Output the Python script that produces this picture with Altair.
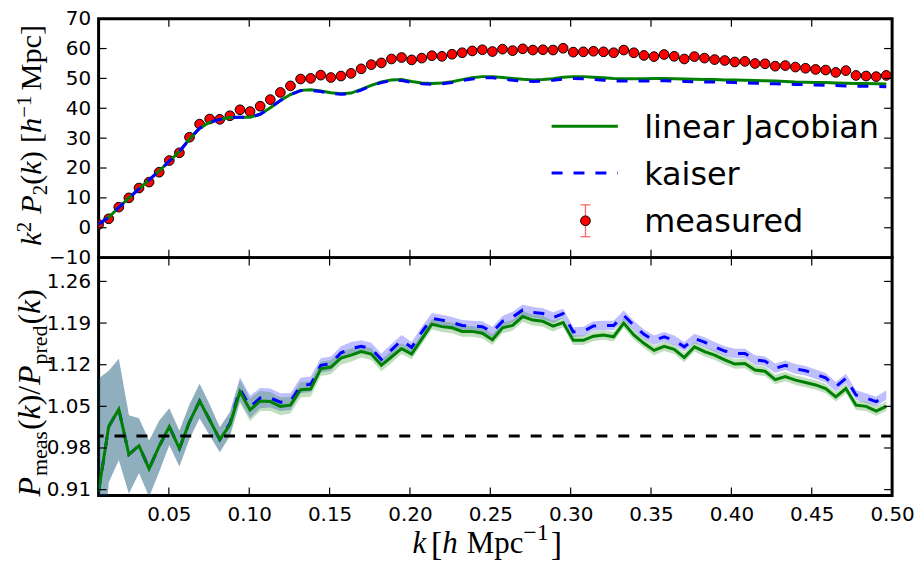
import altair as alt
import pandas as pd

# wavenumbers k [h/Mpc]
k = [0.00628, 0.01257, 0.01885, 0.02513, 0.03142, 0.03770, 0.04398, 0.05027, 0.05655, 0.06283,
     0.06912, 0.07540, 0.08168, 0.08796, 0.09425, 0.10053, 0.10681, 0.11310, 0.11938, 0.12566,
     0.13195, 0.13823, 0.14451, 0.15080, 0.15708, 0.16336, 0.16965, 0.17593, 0.18221, 0.18850,
     0.19478, 0.20106, 0.20735, 0.21363, 0.21991, 0.22619, 0.23248, 0.23876, 0.24504, 0.25133,
     0.25761, 0.26389, 0.27018, 0.27646, 0.28274, 0.28903, 0.29531, 0.30159, 0.30788, 0.31416,
     0.32044, 0.32673, 0.33301, 0.33929, 0.34558, 0.35186, 0.35814, 0.36442, 0.37071, 0.37699,
     0.38327, 0.38956, 0.39584, 0.40212, 0.40841, 0.41469, 0.42097, 0.42726, 0.43354, 0.43982,
     0.44611, 0.45239, 0.45867, 0.46496, 0.47124, 0.47752, 0.48381, 0.49009, 0.49637]

# top panel: k^2 P2(k)
measured = [1.1, 3.0, 6.9, 10.0, 13.3, 15.3, 18.6, 22.5, 25.1, 30.3,
            34.7, 36.4, 36.3, 37.5, 39.5, 38.9, 40.7, 42.9, 45.3, 47.5,
            49.8, 50.0, 51.1, 50.3, 50.8, 51.7, 53.2, 54.6, 55.2, 56.5,
            57.0, 56.2, 56.8, 57.6, 57.4, 58.1, 58.6, 59.2, 59.6, 59.0,
            59.8, 59.3, 59.9, 59.5, 59.6, 59.5, 60.1, 58.8, 58.9, 59.1,
            58.9, 58.6, 59.5, 58.6, 57.7, 57.3, 58.0, 57.4, 56.5, 57.3,
            56.8, 56.3, 56.0, 55.5, 55.7, 55.0, 54.9, 54.1, 54.3, 53.8,
            53.4, 53.0, 52.8, 52.0, 52.6, 51.0, 50.8, 50.6, 51.0]
linear_jacobian = [1.2, 3.5, 6.8, 10.0, 13.0, 16.0, 19.0, 22.3, 25.5, 29.7,
                   33.3, 35.3, 36.3, 36.9, 37.0, 37.0, 38.0, 40.2, 42.6, 44.6,
                   46.0, 46.2, 45.8, 45.2, 44.9, 45.1, 46.3, 47.7, 48.8, 49.5,
                   49.6, 49.0, 48.5, 48.3, 48.5, 48.9, 49.6, 50.2, 50.6, 50.6,
                   50.3, 50.0, 49.7, 49.5, 49.6, 49.9, 50.4, 50.6, 50.6, 50.4,
                   50.2, 50.0, 49.9, 49.9, 49.9, 50.0, 50.0, 49.9, 49.8, 49.7,
                   49.6, 49.6, 49.5, 49.5, 49.4, 49.3, 49.2, 49.1, 49.0, 48.8,
                   48.7, 48.6, 48.6, 48.5, 48.4, 48.3, 48.3, 48.2, 48.1]
kaiser = [1.2, 3.5, 6.8, 10.0, 13.0, 16.0, 19.0, 22.3, 25.5, 29.7,
          33.3, 35.3, 36.3, 36.9, 37.0, 37.0, 38.0, 40.2, 42.6, 44.6,
          45.9, 46.0, 45.6, 45.0, 44.7, 44.9, 46.1, 47.5, 48.6, 49.3,
          49.3, 48.7, 48.2, 48.0, 48.2, 48.6, 49.3, 49.8, 50.2, 50.2,
          49.8, 49.4, 49.1, 49.0, 49.1, 49.4, 49.8, 50.0, 49.9, 49.7,
          49.4, 49.2, 49.1, 49.1, 49.1, 49.2, 49.2, 49.1, 49.0, 48.9,
          48.8, 48.8, 48.7, 48.6, 48.5, 48.4, 48.3, 48.2, 48.1, 48.0,
          47.9, 47.8, 47.7, 47.6, 47.5, 47.4, 47.4, 47.3, 47.2]

# bottom panel: P_meas / P_pred
ratio_linear = [0.907, 1.016, 1.045, 0.969, 0.984, 0.945, 0.983, 1.016, 0.979, 1.024,
                1.059, 1.027, 0.994, 1.019, 1.075, 1.044, 1.059, 1.058, 1.050, 1.052,
                1.078, 1.079, 1.113, 1.116, 1.131, 1.136, 1.142, 1.138, 1.119, 1.133,
                1.147, 1.138, 1.163, 1.188, 1.184, 1.182, 1.176, 1.176, 1.173, 1.162,
                1.182, 1.186, 1.201, 1.195, 1.193, 1.185, 1.191, 1.161, 1.161, 1.168,
                1.170, 1.167, 1.190, 1.170, 1.156, 1.144, 1.151, 1.146, 1.132, 1.150,
                1.142, 1.136, 1.128, 1.121, 1.122, 1.111, 1.109, 1.095, 1.100, 1.094,
                1.090, 1.086, 1.080, 1.066, 1.080, 1.052, 1.050, 1.042, 1.050]
ratio_kaiser = [0.907, 1.016, 1.045, 0.969, 0.984, 0.945, 0.983, 1.016, 0.979, 1.024,
                1.059, 1.027, 0.994, 1.021, 1.079, 1.049, 1.064, 1.064, 1.057, 1.058,
                1.085, 1.087, 1.119, 1.122, 1.140, 1.147, 1.151, 1.147, 1.129, 1.145,
                1.161, 1.149, 1.175, 1.198, 1.195, 1.191, 1.186, 1.185, 1.184, 1.175,
                1.193, 1.200, 1.212, 1.208, 1.206, 1.199, 1.206, 1.175, 1.176, 1.185,
                1.186, 1.186, 1.203, 1.186, 1.171, 1.161, 1.167, 1.161, 1.150, 1.164,
                1.158, 1.150, 1.143, 1.139, 1.139, 1.128, 1.126, 1.114, 1.119, 1.113,
                1.110, 1.104, 1.098, 1.083, 1.097, 1.069, 1.064, 1.058, 1.069]
ratio_err = [0.190, 0.094, 0.085, 0.066, 0.046, 0.047, 0.043, 0.031, 0.030, 0.029,
             0.029, 0.026, 0.021, 0.020, 0.020, 0.019, 0.017, 0.016, 0.015, 0.014,
             0.013, 0.013, 0.012, 0.012, 0.011, 0.011, 0.010, 0.010, 0.010, 0.010,
             0.009, 0.009, 0.009, 0.009, 0.009, 0.009, 0.009, 0.009, 0.009, 0.009,
             0.009, 0.009, 0.009, 0.009, 0.009, 0.009, 0.008, 0.008, 0.008, 0.008,
             0.008, 0.008, 0.008, 0.008, 0.008, 0.008, 0.008, 0.008, 0.008, 0.008,
             0.008, 0.008, 0.008, 0.008, 0.008, 0.008, 0.008, 0.008, 0.008, 0.008,
             0.008, 0.008, 0.008, 0.008, 0.008, 0.008, 0.008, 0.008, 0.008]

x_ticks = [0.05, 0.10, 0.15, 0.20, 0.25, 0.30, 0.35, 0.40, 0.45, 0.50]
top_ticks = [-10, 0, 10, 20, 30, 40, 50, 60, 70]
bottom_ticks = [0.91, 0.98, 1.05, 1.12, 1.19, 1.26]
legend_labels = ["linear Jacobian", "kaiser", "measured"]

# axis titles, as (text, style, role) pieces: role = main / sup / sub / big
x_title = [("k", "italic", "main"), ("[", "normal", "big"), ("h", "italic", "main"),
           ("Mpc", "normal", "main"), ("−1", "normal", "sup"), ("]", "normal", "big")]
top_title = [("k", "italic", "main"), ("2", "normal", "sup"), ("P", "italic", "main"),
             ("2", "normal", "sub"), ("(", "normal", "main"), ("k", "italic", "main"),
             (")", "normal", "main"), ("[", "normal", "main"), ("h", "italic", "main"),
             ("−1", "normal", "sup"), ("Mpc", "normal", "main"), ("]", "normal", "main")]
bottom_title = [("P", "italic", "main"), ("meas", "normal", "sub"), ("(", "normal", "main"),
                ("k", "italic", "main"), (")/", "normal", "main"), ("P", "italic", "main"),
                ("pred", "normal", "sub"), ("(", "normal", "main"), ("k", "italic", "main"),
                (")", "normal", "main")]

W, H_TOP, H_BOT = 797, 240, 239
X_DOMAIN = [0.00628, 0.5]

df = pd.DataFrame({
    "k": k, "measured": measured, "lin": linear_jacobian, "kai": kaiser,
    "r_lin": ratio_linear, "r_kai": ratio_kaiser, "err": ratio_err,
})
df["r_lin_lo"] = df["r_lin"] - df["err"]
df["r_lin_hi"] = df["r_lin"] + df["err"]
df["r_kai_lo"] = df["r_kai"] - df["err"]
df["r_kai_hi"] = df["r_kai"] + df["err"]

xt = pd.DataFrame({"xt": x_ticks})
tt = pd.DataFrame({"yt": top_ticks})
bt = pd.DataFrame({"yt": bottom_ticks})
one = pd.DataFrame({"a": [0]})

LABEL_FONT = "DejaVu Sans"
TITLE_FONT = "Liberation Serif, DejaVu Serif"

# approximate advance widths (em) of the serif title font
EM = {"(": 0.333, ")": 0.333, "[": 0.333, "]": 0.333, "/": 0.278, "M": 0.889, "p": 0.5,
      "c": 0.444, "m": 0.778, "e": 0.444, "a": 0.444, "s": 0.389, "r": 0.333, "d": 0.5,
      "1": 0.5, "2": 0.5, "−": 0.564, "k": 0.444, "P": 0.611, "h": 0.5}


def title_marks(pieces, start, base, sizes, shifts, gaps, rotated):
    """Place title pieces one after another; start/base are panel pixel coordinates."""
    marks = []
    pos = start
    for (txt, style, role), gap in zip(pieces, gaps):
        size = sizes[role]
        shift = shifts[role]
        w = sum(EM[c] for c in txt) * size
        if rotated:
            enc = dict(x=alt.value(base + shift), y=alt.value(pos))
            ang = 270
        else:
            enc = dict(x=alt.value(pos), y=alt.value(base + shift))
            ang = 0
        marks.append(alt.Chart(one).mark_text(
            text=txt, align="left", baseline="alphabetic", angle=ang, fontSize=size,
            font=TITLE_FONT, fontStyle=style, color="black").encode(**enc))
        pos = pos - w - gap if rotated else pos + w + gap
    return marks


PX0, PY0 = 96.8, 17.0          # absolute position of the top panel's plot area
PY1 = PY0 + H_TOP              # absolute top of the bottom panel

xscale = alt.Scale(domain=X_DOMAIN, nice=False, zero=False)


def x_enc(field, show):
    if show:
        ax = alt.Axis(values=x_ticks, format=".2f", ticks=False, tickSize=0, domain=False,
                      grid=False, labelFontSize=20, labelFont=LABEL_FONT, labelPadding=9,
                      labelFlush=False, labelOverlap=False, title=None, labelColor="black")
    else:
        ax = alt.Axis(labels=False, ticks=False, domain=False, grid=False, title=None)
    return alt.X(field, type="quantitative", scale=xscale, axis=ax)


def tick_layers(y_ticks_df, yscale, yaxis, show_x, h):
    rule = dict(color="black", strokeWidth=1.2)
    top = alt.Chart(xt).mark_rule(**rule).encode(
        x=x_enc("xt", show_x), y=alt.value(0), y2=alt.value(8))
    bot = alt.Chart(xt).mark_rule(**rule).encode(
        x=x_enc("xt", show_x), y=alt.value(h), y2=alt.value(h - 8))
    left = alt.Chart(y_ticks_df).mark_rule(**rule).encode(
        y=alt.Y("yt:Q", scale=yscale, axis=yaxis), x=alt.value(0), x2=alt.value(8))
    right = alt.Chart(y_ticks_df).mark_rule(**rule).encode(
        y=alt.Y("yt:Q", scale=yscale, axis=yaxis), x=alt.value(W), x2=alt.value(W - 8))
    return [top, bot, left, right]


# ---------------- top panel ----------------
yscale_top = alt.Scale(domain=[-10, 70], nice=False, zero=False)
yaxis_top = alt.Axis(values=top_ticks, ticks=False, tickSize=0, domain=False, grid=False,
                     labelFontSize=20, labelFont=LABEL_FONT, labelPadding=8, labelFlush=False,
                     labelOverlap=False, labelBound=False, title=None, labelColor="black")

base_top = alt.Chart(df)
pts = base_top.mark_point(filled=True, fill="red", stroke="black", strokeWidth=1,
                          size=95, opacity=1, clip=True).encode(
    x=x_enc("k", False), y=alt.Y("measured:Q", scale=yscale_top, axis=yaxis_top))
lin_line = base_top.mark_line(color="green", strokeWidth=3, clip=True).encode(
    x=x_enc("k", False), y=alt.Y("lin:Q", scale=yscale_top, axis=yaxis_top))
kai_line = base_top.mark_line(color="blue", strokeWidth=3, strokeDash=[11, 11], clip=True).encode(
    x=x_enc("k", False), y=alt.Y("kai:Q", scale=yscale_top, axis=yaxis_top))

# legend (drawn inside the top panel)
leg_x0, leg_x1, leg_txt = 455, 521.5, 548
leg = [
    alt.Chart(one).mark_rule(color="green", strokeWidth=3).encode(
        x=alt.value(leg_x0), x2=alt.value(leg_x1), y=alt.value(108)),
    alt.Chart(one).mark_rule(color="blue", strokeWidth=3, strokeDash=[11, 11]).encode(
        x=alt.value(leg_x0), x2=alt.value(leg_x1), y=alt.value(155)),
    alt.Chart(one).mark_rule(color="#f03c3c", strokeWidth=1.3, opacity=0.75).encode(
        x=alt.value(489), y=alt.value(187), y2=alt.value(219)),
    alt.Chart(one).mark_rule(color="#f03c3c", strokeWidth=1.3, opacity=0.75).encode(
        x=alt.value(484), x2=alt.value(494), y=alt.value(187)),
    alt.Chart(one).mark_rule(color="#f03c3c", strokeWidth=1.3, opacity=0.75).encode(
        x=alt.value(484), x2=alt.value(494), y=alt.value(219)),
    alt.Chart(one).mark_point(filled=True, fill="red", stroke="black", strokeWidth=1,
                              size=95, opacity=1).encode(x=alt.value(489), y=alt.value(203)),
]
for lab, yb in zip(legend_labels, [119.5, 167.5, 214.5]):
    leg.append(alt.Chart(one).mark_text(text=lab, align="left", baseline="alphabetic",
                                        fontSize=32, font=LABEL_FONT, color="black").encode(
        x=alt.value(leg_txt), y=alt.value(yb)))

top_title_marks = title_marks(
    top_title, start=245 - PY0, base=39 - PX0,
    sizes={"main": 30.5, "sup": 21, "sub": 21},
    shifts={"main": 0, "sup": -10, "sub": 6},
    gaps=[0, 8, 0, 0, 0, 0, 8, 0, 0, 5, 0, 0], rotated=True)

top = alt.layer(pts, lin_line, kai_line, *tick_layers(tt, yscale_top, yaxis_top, False, H_TOP),
                *leg, *top_title_marks).properties(width=W, height=H_TOP)

# ---------------- bottom panel ----------------
yscale_bot = alt.Scale(domain=[0.90, 1.30], nice=False, zero=False)
yaxis_bot = alt.Axis(values=bottom_ticks, format=".2f", ticks=False, tickSize=0, domain=False,
                     grid=False, labelFontSize=20, labelFont=LABEL_FONT, labelPadding=8,
                     labelFlush=False, labelOverlap=False, labelBound=False, title=None,
                     labelColor="black")

base_bot = alt.Chart(df)
band_kai = base_bot.mark_area(color="blue", opacity=0.25, clip=True).encode(
    x=x_enc("k", True), y=alt.Y("r_kai_lo:Q", scale=yscale_bot, axis=yaxis_bot), y2="r_kai_hi:Q")
band_lin = base_bot.mark_area(color="green", opacity=0.25, clip=True).encode(
    x=x_enc("k", True), y=alt.Y("r_lin_lo:Q", scale=yscale_bot, axis=yaxis_bot), y2="r_lin_hi:Q")
r_kai = base_bot.mark_line(color="blue", strokeWidth=3, strokeDash=[11, 11], clip=True).encode(
    x=x_enc("k", True), y=alt.Y("r_kai:Q", scale=yscale_bot, axis=yaxis_bot))
r_lin = base_bot.mark_line(color="green", strokeWidth=3, clip=True).encode(
    x=x_enc("k", True), y=alt.Y("r_lin:Q", scale=yscale_bot, axis=yaxis_bot))
unity = alt.Chart(one).mark_rule(color="black", strokeWidth=3, strokeDash=[11, 11]).encode(
    y=alt.Y(datum=1.0, scale=yscale_bot, axis=yaxis_bot))

bottom_title_marks = title_marks(
    bottom_title, start=497 - PY1, base=38 - PX0,
    sizes={"main": 32, "sup": 22, "sub": 22},
    shifts={"main": 0, "sup": -10, "sub": 7},
    gaps=[1, 1, 0, 0, 1, 1, 1, 0, 0, 0], rotated=True)

x_title_marks = title_marks(
    x_title, start=412 - PX0, base=554 - PY1,
    sizes={"main": 31, "sup": 24, "sub": 22, "big": 34},
    shifts={"main": 0, "sup": -13, "sub": 7, "big": 2},
    gaps=[5, 0, 9, 0, 2, 0], rotated=False)

bottom = alt.layer(band_kai, band_lin, r_kai, r_lin, unity,
                   *tick_layers(bt, yscale_bot, yaxis_bot, True, H_BOT),
                   *bottom_title_marks, *x_title_marks).properties(width=W, height=H_BOT)

chart = alt.vconcat(top, bottom, spacing=0, bounds="flush").properties(
    padding={"left": 4, "top": -2.5, "right": 0, "bottom": 0}
).configure(background="white").configure_view(stroke="black", strokeWidth=3)

chart.save("out.html", embed_options={"renderer": "svg", "actions": False})
